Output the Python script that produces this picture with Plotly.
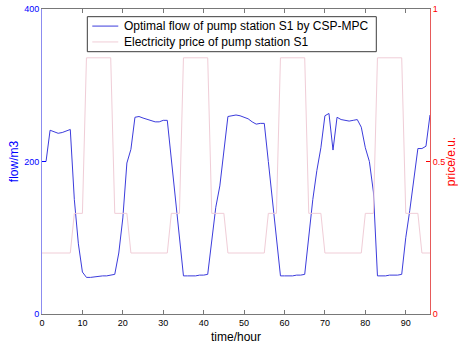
import plotly.graph_objects as go

time_hour = list(range(0, 97))

flow_s1 = [200, 200, 241, 239, 237, 238, 240, 242, 150, 92,
           55, 48, 48, 49, 49, 50, 50, 51, 52, 80,
           126, 198, 216, 258, 259, 257, 255, 254, 252, 252,
           254, 254, 205, 152, 98, 50, 50, 50, 50, 51,
           51, 52, 100, 140, 168, 210, 259, 260, 261, 260,
           258, 256, 252, 249, 250, 250, 200, 150, 98, 50,
           50, 50, 50, 51, 51, 52, 100, 150, 188, 218,
           260, 263, 215, 258, 255, 254, 253, 254, 255, 245,
           218, 200, 160, 50, 50, 50, 51, 51, 51, 52,
           100, 136, 180, 217, 217, 220, 261]

price_s1 = [0.2, 0.2, 0.2, 0.2, 0.2, 0.2, 0.2, 0.2, 0.33, 0.33,
            0.33, 0.84, 0.84, 0.84, 0.84, 0.84, 0.84, 0.84, 0.33, 0.33,
            0.33, 0.33, 0.2, 0.2, 0.2, 0.2, 0.2, 0.2, 0.2, 0.2,
            0.2, 0.2, 0.33, 0.33, 0.33, 0.84, 0.84, 0.84, 0.84, 0.84,
            0.84, 0.84, 0.33, 0.33, 0.33, 0.33, 0.2, 0.2, 0.2, 0.2,
            0.2, 0.2, 0.2, 0.2, 0.2, 0.2, 0.33, 0.33, 0.33, 0.84,
            0.84, 0.84, 0.84, 0.84, 0.84, 0.84, 0.33, 0.33, 0.33, 0.33,
            0.2, 0.2, 0.2, 0.2, 0.2, 0.2, 0.2, 0.2, 0.2, 0.2,
            0.33, 0.33, 0.33, 0.84, 0.84, 0.84, 0.84, 0.84, 0.84, 0.84,
            0.33, 0.33, 0.33, 0.33, 0.2, 0.2, 0.2]

x_ticks = [0, 10, 20, 30, 40, 50, 60, 70, 80, 90]
flow_ticks = [0, 200, 400]
price_ticks = [0, 0.5, 1]
price_tick_text = ["0", "0.5", "1"]

flow_name = "Optimal flow of pump station S1 by CSP-MPC"
price_name = "Electricity price of pump station S1"

FONT = "Liberation Sans, Arial, sans-serif"
FLOW_COLOR = "rgb(60,60,220)"
PRICE_COLOR = "rgb(240,205,215)"

fig = go.Figure()
fig.add_trace(go.Scatter(
    x=time_hour, y=flow_s1, mode="lines", name=flow_name,
    line=dict(color=FLOW_COLOR, width=1),
))
fig.add_trace(go.Scatter(
    x=time_hour, y=price_s1, mode="lines", yaxis="y2", name=price_name,
    line=dict(color=PRICE_COLOR, width=1),
))

# manual legend box (compact, like the original)
fig.add_shape(type="rect", xref="paper", yref="paper",
              x0=0.1168, x1=0.8616, y0=0.860, y1=0.9748,
              line=dict(color="rgb(60,60,60)", width=1), fillcolor="white",
              layer="above")
legend_rows = [(flow_name, FLOW_COLOR, 0.944), (price_name, PRICE_COLOR, 0.892)]
for text, color, yy in legend_rows:
    fig.add_shape(type="line", xref="paper", yref="paper",
                  x0=0.1296, x1=0.1966, y0=yy, y1=yy,
                  line=dict(color=color, width=1), layer="above")
    fig.add_annotation(text=text, xref="paper", yref="paper",
                       x=0.2054, y=yy, xanchor="left", yanchor="middle",
                       showarrow=False,
                       font=dict(family=FONT, size=12, color="black"))

fig.update_layout(
    width=458, height=345,
    margin=dict(l=42, r=28, t=9, b=31),
    paper_bgcolor="white", plot_bgcolor="white",
    font=dict(family=FONT, size=9, color="black"),
    showlegend=False,
    xaxis=dict(
        range=[0, 96], tickvals=x_ticks, ticks="inside", ticklen=4,
        tickcolor="rgb(120,120,120)", showline=True,
        linecolor="rgb(120,120,120)", linewidth=1, mirror="ticks",
        showgrid=False, zeroline=False, automargin=False,
        tickfont=dict(size=9, color="black"),
        title=dict(text="time/hour", font=dict(size=12, color="black"), standoff=5),
    ),
    yaxis=dict(
        range=[0, 400], tickvals=flow_ticks, ticks="inside", ticklen=4,
        tickcolor="blue", showline=True, linecolor="rgb(140,140,240)",
        linewidth=1, showgrid=False, zeroline=False, automargin=False,
        tickfont=dict(size=9, color="blue"),
        title=dict(text="flow/m3", font=dict(size=12, color="blue"), standoff=2),
    ),
    yaxis2=dict(
        range=[0, 1], tickvals=price_ticks, ticktext=price_tick_text,
        overlaying="y", side="right", ticks="inside", ticklen=4,
        tickcolor="red", showline=True, linecolor="rgb(230,90,90)",
        linewidth=1, showgrid=False, zeroline=False, automargin=False,
        tickfont=dict(size=9, color="red"),
        title=dict(text="price/e.u.", font=dict(size=12, color="red"), standoff=3),
    ),
)

fig.write_html("out.html")
